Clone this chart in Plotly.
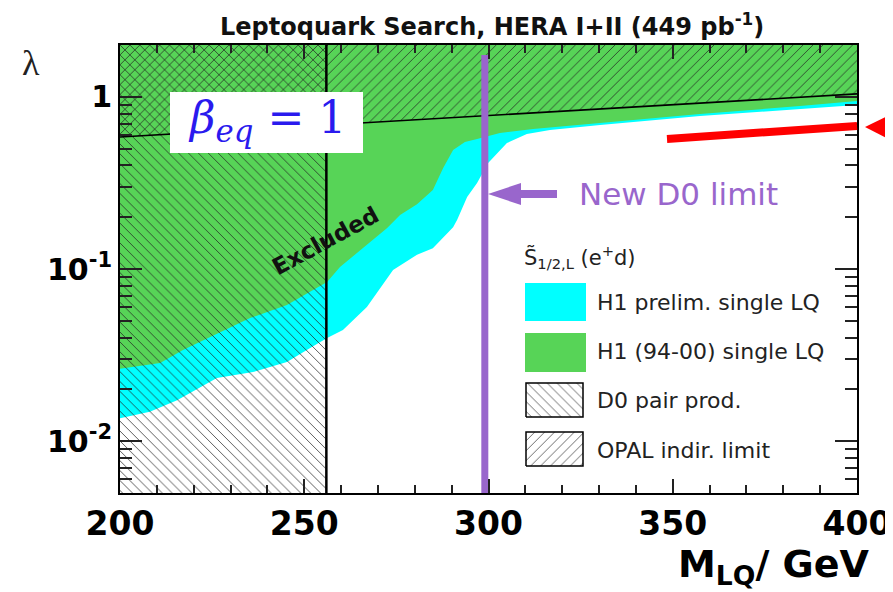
import plotly.graph_objects as go
import math

# ---------------- data ----------------
# lower edge of the H1 (94-00) excluded region (green)
mass_green = [200.0, 210.9, 217.1, 224.4, 235.3, 245.3, 252.4, 256.2, 259.7, 267.0, 272.5,
              276.0, 280.6, 284.9, 287.7, 290.4, 293.6, 296.9, 303.1, 312.1, 321.3, 330.3,
              357.4, 384.5, 400.0]
lam_green = [0.0263, 0.0284, 0.0339, 0.0403, 0.0519, 0.0618, 0.0755, 0.0841, 0.1027, 0.138, 0.173,
             0.206, 0.238, 0.288, 0.386, 0.491, 0.546, 0.569, 0.616, 0.650, 0.677, 0.704,
             0.795, 0.884, 0.945]

# lower edge of the H1 preliminary excluded region (cyan)
mass_cyan = [200.0, 208.1, 215.5, 221.7, 226.3, 236.1, 245.3, 250.7, 256.2, 260.5, 267.0,
             274.1, 280.6, 284.9, 290.4, 291.5, 294.2, 296.9, 299.9, 305.0, 310.4, 316.7,
             330.3, 357.4, 384.5, 400.0]
lam_cyan = [0.0136, 0.0148, 0.0173, 0.0206, 0.0233, 0.0252, 0.0288, 0.0339, 0.0398, 0.0442, 0.0602,
            0.0987, 0.121, 0.132, 0.175, 0.193, 0.262, 0.316, 0.413, 0.539, 0.608, 0.641,
            0.686, 0.774, 0.850, 0.896]

# OPAL indirect limit (straight line on the log plot)
mass_opal = [200.0, 400.0]
lam_opal = [0.584, 1.04]

d0_old_limit = 256.0      # D0 pair production limit (GeV)
d0_new_limit = 299.0      # new D0 limit (GeV)
d0_new_top = 1.75         # top of the purple marker line

x_range = [200, 400]
lam_range = [0.005, 2.0]
x_ticks = [200, 250, 300, 350, 400]
y_ticks = [0.01, 0.1, 1]
y_tick_text = ['10<sup>-2</sup>', '10<sup>-1</sup>', '1']
y_minor = [0.006, 0.007, 0.008, 0.009, 0.02, 0.03, 0.04, 0.05, 0.06, 0.07, 0.08, 0.09,
           0.2, 0.3, 0.4, 0.5, 0.6, 0.7, 0.8, 0.9]

# ---------------- styling ----------------
GREEN = '#57d457'
CYAN = '#00ffff'
PURPLE = '#9966cc'
RED = '#ff0000'
FONT = 'DejaVu Sans'

OFF = 8                          # page body margin of the browser
WIN_W, WIN_H = 893, 592
L, R, T, B = 120, 857, 45, 493   # plot frame in window pixels


def px(x):
    return (x - L) / (R - L)


def py(y):
    return (B - y) / (B - T)


lo, hi = lam_range[0] / 10, lam_range[1] * 10

fig = go.Figure()

# cyan region (H1 prelim.)
fig.add_trace(go.Scatter(x=mass_cyan + [x_range[1], x_range[0]], y=lam_cyan + [hi, hi],
                         fill='toself', fillcolor=CYAN, mode='lines', line=dict(width=0),
                         hoverinfo='skip', showlegend=False))
# green region (H1 94-00)
fig.add_trace(go.Scatter(x=mass_green + [x_range[1], x_range[0]], y=lam_green + [hi, hi],
                         fill='toself', fillcolor=GREEN, mode='lines', line=dict(width=0),
                         hoverinfo='skip', showlegend=False))
# D0 pair production hatch
fig.add_trace(go.Scatter(x=[x_range[0], d0_old_limit, d0_old_limit, x_range[0]],
                         y=[lo, lo, hi, hi], fill='toself', fillcolor='rgba(0,0,0,0)',
                         fillpattern=dict(shape='\\', fgcolor='#222222', fgopacity=0.75,
                                          size=7, solidity=0.14, fillmode='overlay'),
                         mode='lines', line=dict(width=0), hoverinfo='skip', showlegend=False))
# OPAL hatch
fig.add_trace(go.Scatter(x=mass_opal + [mass_opal[1], mass_opal[0]],
                         y=lam_opal + [hi, hi], fill='toself', fillcolor='rgba(0,0,0,0)',
                         fillpattern=dict(shape='/', fgcolor='#222222', fgopacity=0.75,
                                          size=7, solidity=0.14, fillmode='overlay'),
                         mode='lines', line=dict(width=0), hoverinfo='skip', showlegend=False))
# OPAL line
fig.add_trace(go.Scatter(x=mass_opal, y=lam_opal, mode='lines',
                         line=dict(color='black', width=1.6), hoverinfo='skip', showlegend=False))
# D0 old limit line
fig.add_trace(go.Scatter(x=[d0_old_limit, d0_old_limit], y=[lo, hi], mode='lines',
                         line=dict(color='black', width=2.5), hoverinfo='skip', showlegend=False))
# New D0 limit line
fig.add_trace(go.Scatter(x=[d0_new_limit, d0_new_limit], y=[lo, d0_new_top], mode='lines',
                         line=dict(color=PURPLE, width=7), hoverinfo='skip', showlegend=False))

# legend hatched boxes (on an overlay axis in plot-fraction units)
for (y0, y1), shp in [((py(417), py(383)), '\\'), ((py(466), py(432)), '/')]:
    x0, x1 = px(526), px(583)
    fig.add_trace(go.Scatter(x=[x0, x1, x1, x0, x0], y=[y0, y0, y1, y1, y0],
                             xaxis='x2', yaxis='y2', fill='toself', fillcolor='white',
                             fillpattern=dict(shape=shp, fgcolor='#444444', fgopacity=0.8,
                                              size=7, solidity=0.14, fillmode='overlay'),
                             mode='lines', line=dict(color='black', width=1.5),
                             hoverinfo='skip', showlegend=False))

shapes = [
    # beta box
    dict(type='rect', xref='paper', yref='paper', x0=px(170), x1=px(363), y0=py(153), y1=py(92),
         fillcolor='white', line=dict(width=0), layer='above'),
    # legend solid boxes
    dict(type='rect', xref='paper', yref='paper', x0=px(525), x1=px(586), y0=py(321), y1=py(283),
         fillcolor=CYAN, line=dict(width=0)),
    dict(type='rect', xref='paper', yref='paper', x0=px(525), x1=px(586), y0=py(372), y1=py(333),
         fillcolor=GREEN, line=dict(width=0)),
    # purple arrow
    dict(type='line', xref='paper', yref='paper', x0=px(557), x1=px(516), y0=py(194), y1=py(194),
         line=dict(color=PURPLE, width=8)),
    dict(type='path', xref='paper', yref='paper',
         path=f'M {px(488)} {py(194)} L {px(521)} {py(183)} L {px(521)} {py(205)} Z',
         fillcolor=PURPLE, line=dict(width=0)),
    # red arrow
    dict(type='line', xref='paper', yref='paper', x0=px(667), x1=px(857), y0=py(139), y1=py(126),
         line=dict(color=RED, width=8)),
    dict(type='path', xref='paper', yref='paper',
         path=f'M {px(865)} {py(127)} L {px(898)} {py(111)} L {px(898)} {py(144)} Z',
         fillcolor=RED, line=dict(width=0)),
]

annotations = [
    dict(text='Leptoquark Search, HERA I+II (449 pb<sup>-1</sup>)', x=px(492), y=py(25),
         xref='paper', yref='paper', showarrow=False, xanchor='center', yanchor='middle',
         font=dict(family=FONT, size=24, color='#111111', weight='bold')),
    dict(text='<i>β</i><sub><i>eq</i></sub> = 1', x=px(267), y=py(121), xref='paper', yref='paper',
         showarrow=False, xanchor='center', yanchor='middle',
         font=dict(family='DejaVu Serif', size=44, color='#2a1aee')),
    dict(text='Excluded', x=px(325), y=py(241), xref='paper', yref='paper', showarrow=False,
         xanchor='center', yanchor='middle',
         textangle=-28.5, font=dict(family=FONT, size=23, color='#111111', weight='bold')),
    dict(text='New D0 limit', x=px(577), y=py(194), xref='paper', yref='paper', showarrow=False,
         xanchor='left', yanchor='middle', font=dict(family=FONT, size=31, color=PURPLE)),
    dict(text='S̃<sub>1/2,L</sub> (e<sup>+</sup>d)', x=px(522), y=py(257), xref='paper', yref='paper',
         showarrow=False, xanchor='left', yanchor='middle', font=dict(family=FONT, size=21, color='#222222')),
    dict(text='H1 prelim. single LQ', x=px(595), y=py(302), xref='paper', yref='paper',
         showarrow=False, xanchor='left', yanchor='middle', font=dict(family=FONT, size=22, color='#222222')),
    dict(text='H1 (94-00) single LQ', x=px(595), y=py(351), xref='paper', yref='paper',
         showarrow=False, xanchor='left', yanchor='middle', font=dict(family=FONT, size=22, color='#222222')),
    dict(text='D0 pair prod.', x=px(595), y=py(400), xref='paper', yref='paper',
         showarrow=False, xanchor='left', yanchor='middle', font=dict(family=FONT, size=22, color='#222222')),
    dict(text='OPAL indir. limit', x=px(595), y=py(450), xref='paper', yref='paper',
         showarrow=False, xanchor='left', yanchor='middle', font=dict(family=FONT, size=22, color='#222222')),
    dict(text='M<sub>LQ</sub>/ GeV', x=px(871), y=py(566), xref='paper', yref='paper',
         showarrow=False, xanchor='right', yanchor='middle',
         font=dict(family=FONT, size=38, color='black', weight='bold')),
    dict(text='λ', x=px(31), y=py(63), xref='paper', yref='paper', showarrow=False,
         xanchor='center', yanchor='middle', font=dict(family='Liberation Serif', size=36, color='#222222')),
]

fig.update_layout(
    width=WIN_W - OFF, height=WIN_H - OFF,
    margin=dict(l=L - OFF, r=WIN_W - R, t=T - OFF, b=WIN_H - B, pad=0, autoexpand=False),
    paper_bgcolor='white', plot_bgcolor='white',
    showlegend=False,
    shapes=shapes,
    annotations=annotations,
    xaxis=dict(range=x_range, tickvals=x_ticks, ticktext=[str(v) for v in x_ticks],
               ticks='inside', ticklen=14, tickwidth=1.5, tickcolor='#222222',
               minor=dict(dtick=10, tick0=200, ticks='inside', ticklen=8, tickwidth=1.5, tickcolor='#222222'),
               showline=True, linecolor='black', linewidth=2, mirror='ticks',
               showgrid=False, zeroline=False, ticklabelstandoff=0, automargin=False,
               tickfont=dict(family=FONT, size=33, color='black', weight='bold')),
    yaxis=dict(type='log', range=[math.log10(lam_range[0]), math.log10(lam_range[1])],
               tickvals=y_ticks, ticktext=y_tick_text,
               ticks='inside', ticklen=22, tickwidth=1.5, tickcolor='#222222',
               minor=dict(tickvals=y_minor, ticks='inside', ticklen=12, tickwidth=1.5, tickcolor='#222222'),
               showline=True, linecolor='black', linewidth=2, mirror='ticks',
               showgrid=False, zeroline=False, ticklabelstandoff=0, automargin=False,
               tickfont=dict(family=FONT, size=30, color='black', weight='bold')),
    xaxis2=dict(overlaying='x', anchor='y2', range=[0, 1], visible=False, fixedrange=True),
    yaxis2=dict(overlaying='y', anchor='x2', range=[0, 1], visible=False, fixedrange=True),
)

fig.write_html('out.html')
